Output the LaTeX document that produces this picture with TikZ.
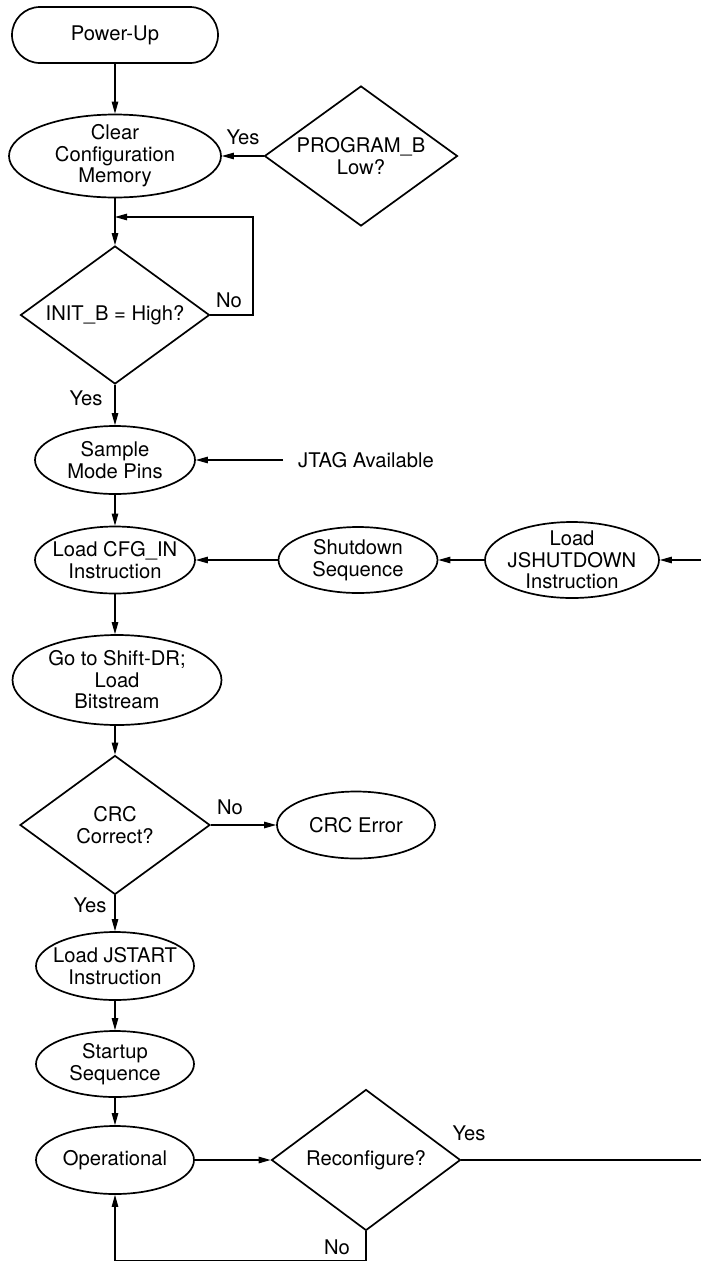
\documentclass[tikz,border=0pt]{standalone}
\usepackage{fontspec}
\setmainfont{TeX Gyre Heros}
\usetikzlibrary{shapes.geometric,arrows.meta}

\begin{document}
\begin{tikzpicture}[x=1pt,y=-1pt,
  every node/.style={font=\fontsize{20.2}{21.5}\selectfont,align=center,inner sep=0pt},
  term/.style={draw,line width=1.7pt,rounded corners=28pt,minimum width=206pt,minimum height=56pt},
  proc/.style={draw,ellipse,line width=1.7pt,inner xsep=-14pt,inner ysep=-6pt},
  dec/.style={draw,diamond,aspect=1.4,line width=1.7pt},
  conn/.style={line width=1.1pt,-{Triangle[length=12pt,width=6.5pt]}}]
\useasboundingbox (0,0) rectangle (701,1262);
% main column
\node[term] (power) at (115,35) {Power-Up};
\node[proc,minimum width=212pt,minimum height=83pt] (clear) at (115,156) {Clear\\Configuration\\Memory};
\node[dec,minimum width=193pt,minimum height=140pt] (progb) at (361,156) {PROGRAM\_B\\Low?};
\node[dec,minimum width=189pt,minimum height=138pt] (initb) at (115,315) {INIT\_B = High?};
\node[proc,minimum width=160pt,minimum height=68pt] (sample) at (115,460) {Sample\\Mode Pins};
\node[anchor=west] (jtag) at (298,460) {JTAG Available};
\node[proc,minimum width=160pt,minimum height=67pt] (cfgin) at (115,560) {Load CFG\_IN\\Instruction};
\node[proc,minimum width=159pt,minimum height=66pt] (shut) at (358,560) {Shutdown\\Sequence};
\node[proc,minimum width=174pt,minimum height=76pt] (jshut) at (572,560) {Load\\JSHUTDOWN\\Instruction};
\node[proc,minimum width=209pt,minimum height=90pt] (shift) at (117,680) {Go to Shift-DR;\\Load\\Bitstream};
\node[dec,minimum width=190pt,minimum height=139pt] (crc) at (115,825) {CRC\\Correct?};
\node[proc,minimum width=158pt,minimum height=67pt] (crcerr) at (356,825) {CRC Error};
\node[proc,minimum width=158pt,minimum height=68pt] (jstart) at (115,966) {Load JSTART\\Instruction};
\node[proc,minimum width=158pt,minimum height=66pt] (startup) at (115,1064) {Startup\\Sequence};
\node[proc,minimum width=158pt,minimum height=68pt] (oper) at (115,1160) {Operational};
\node[dec,minimum width=189pt,minimum height=141pt] (reconf) at (366,1160) {Reconfigure?};
% yes/no labels
\node (yes1) at (243,137) {Yes};
\node (no1) at (229,300) {No};
\node (yes2) at (86,398) {Yes};
\node (no2) at (230,807) {No};
\node (yes3) at (90,905) {Yes};
\node (yes4) at (469,1133) {Yes};
\node (no3) at (337,1247) {No};
% bends
\coordinate (loopR) at (253,217);
\coordinate (loopL) at (115,217);
\coordinate (edgeB) at (703,1160);
\coordinate (edgeT) at (703,560);
\coordinate (botL) at (115,1260.5);
% connectors
\draw[conn] (power) -- (clear);
\draw[conn] (progb) -- (clear);
\draw[conn] (clear) -- (initb);
\draw[conn] (initb.east) -| (loopR) -- (loopL);
\draw[conn] (initb) -- (sample);
\draw[conn,shorten <=15pt] (jtag.west) -- (sample);
\draw[conn] (sample) -- (cfgin);
\draw[conn] (shut) -- (cfgin);
\draw[conn] (jshut) -- (shut);
\draw[conn] (cfgin.south) -- (shift.north -| cfgin.south);
\draw[conn] (shift.south -| crc.north) -- (crc.north);
\draw[conn] (crc) -- (crcerr);
\draw[conn] (crc) -- (jstart);
\draw[conn] (jstart) -- (startup);
\draw[conn] (startup) -- (oper);
\draw[conn] (oper) -- (reconf);
\draw[conn] (reconf.east) -- (edgeB) -- (edgeT) -- (jshut);
\draw[conn] (reconf.south) |- (botL) -- (oper);
\end{tikzpicture}
\end{document}
